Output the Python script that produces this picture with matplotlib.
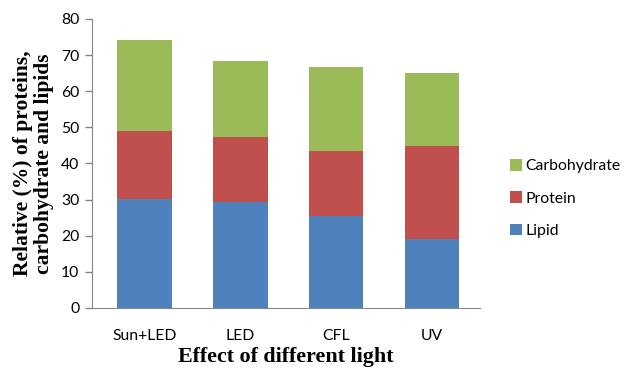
import matplotlib.pyplot as plt
import numpy as np

# data
lights = ['Sun+LED', 'LED', 'CFL', 'UV']
lipid = [30.1, 29.2, 25.5, 19.0]
protein = [19.0, 18.1, 18.0, 25.9]
carbohydrate = [25.1, 21.1, 23.1, 20.1]

c_lipid = '#4F81BD'
c_protein = '#C0504D'
c_carb = '#9BBB59'

fig = plt.figure(figsize=(6.29, 3.71), dpi=100)
ax = fig.add_axes([0.146, 0.170, 0.617, 0.779])

x = np.arange(len(lights))
w = 0.57
lip = np.array(lipid)
pro = np.array(protein)
carb = np.array(carbohydrate)

b1 = ax.bar(x, lip, w, color=c_lipid, label='Lipid')
b2 = ax.bar(x, pro, w, bottom=lip, color=c_protein, label='Protein')
b3 = ax.bar(x, carb, w, bottom=lip + pro, color=c_carb, label='Carbohydrate')

ax.set_xlim(-0.55, 3.5)
ax.set_ylim(0, 80)
ax.set_yticks(range(0, 81, 10))
ax.set_xticks(x)
ax.set_xticklabels(lights)

tick_font = 'Lato'
for lab in ax.get_xticklabels() + ax.get_yticklabels():
    lab.set_fontfamily(tick_font)
    lab.set_fontsize(11.3)

ax.tick_params(axis='x', length=0, pad=15)
ax.tick_params(axis='y', length=5, width=1, color='#868686', direction='out', pad=4)

for s in ['top', 'right']:
    ax.spines[s].set_visible(False)
ax.spines['left'].set_color('#868686')
ax.spines['bottom'].set_color('#868686')

ax.set_ylabel('Relative (%) of proteins,\ncarbohydrate and lipids',
              fontfamily='Liberation Serif', fontweight='bold', fontsize=15.5,
              linespacing=1.1, labelpad=5)
ax.set_xlabel('Effect of different light', fontfamily='Liberation Serif',
              fontweight='bold', fontsize=15.8, labelpad=3)

handles = [b3, b2, b1]
leg = fig.legend(handles, ['Carbohydrate', 'Protein', 'Lipid'],
                 loc='center left', bbox_to_anchor=(0.789, 0.465),
                 frameon=False, handlelength=0.72, handleheight=0.72,
                 handletextpad=0.25, labelspacing=1.15,
                 prop={'family': tick_font, 'size': 11.3})

fig.savefig('out.png', dpi=100)
